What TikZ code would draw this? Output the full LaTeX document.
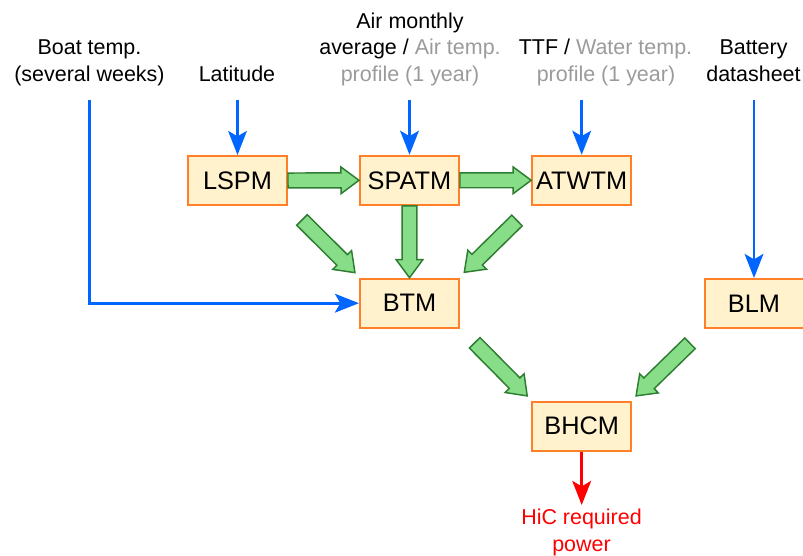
\documentclass[tikz,border=0pt]{standalone}
\usepackage{fontspec}
\setmainfont{Liberation Sans}
\usetikzlibrary{arrows.meta,calc}
\definecolor{boxfill}{RGB}{255,242,204}
\definecolor{boxdraw}{RGB}{255,128,40}
\definecolor{inblue}{RGB}{0,102,255}
\definecolor{gfill}{RGB}{136,221,136}
\definecolor{gdraw}{RGB}{46,125,50}
\definecolor{softgray}{RGB}{155,155,155}
\definecolor{outred}{RGB}{255,0,0}
\newcommand{\garrow}[2]{%
  \path let \p1=($(#2)-(#1)$) in
    \pgfextra{\pgfmathsetmacro\garang{atan2(\y1,\x1)}%
              \pgfmathsetmacro\garlen{veclen(\x1,\y1)}%
              \xdef\garang{\garang}\xdef\garlen{\garlen}};
  \draw[gblock, shift={(#1)}, rotate=\garang]
    (0pt,-5.6pt) -- ({\garlen pt-13.5pt},-5.6pt) -- ({\garlen pt-13.5pt},-10pt)
    -- (\garlen pt,0pt) -- ({\garlen pt-13.5pt},10pt) -- ({\garlen pt-13.5pt},5.6pt)
    -- (0pt,5.6pt) -- cycle;
}
\begin{document}
\begin{tikzpicture}[x=0.75pt,y=-0.75pt,
  model/.style={draw=boxdraw, fill=boxfill, line width=1.5pt, minimum width=74.25pt,
    minimum height=36.75pt, inner sep=0pt, font=\fontsize{19pt}{22pt}\selectfont},
  lbl/.style={anchor=base, inner sep=0pt, font=\fontsize{16.1pt}{20pt}\selectfont},
  gblock/.style={draw=gdraw, fill=gfill, line width=1.1pt, line join=miter},
  inarrow/.style={draw=inblue, line width=2.2pt, -{Stealth[length=18pt,width=14pt,inset=4pt]}},
  outarrow/.style={draw=outred, line width=2.2pt, -{Stealth[length=18pt,width=14pt,inset=4pt]}}]
\useasboundingbox (0,0) rectangle (803,556);

% boxes
\node[model] (lspm)  at (237.5,180.5) {LSPM};
\node[model] (spatm) at (409.5,180.3) {SPATM};
\node[model] (atwtm) at (581.7,180.3) {ATWTM};
\node[model] (btm)   at (409.5,303.2) {BTM};
\node[model] (blm)   at (754,303.5)   {BLM};
\node[model] (bhcm)  at (581.7,426.2) {BHCM};

% input labels
\node[lbl] (boat1) at (89.5,55)   {Boat temp.};
\node[lbl] (boat2) at (89.5,81.5) {(several weeks)};
\node[lbl] (lat)   at (237,81.5)  {Latitude};
\node[lbl] (air1)  at (410,28.5)  {Air monthly};
\node[lbl] (air2)  at (410,55)    {average / \textcolor{softgray}{Air temp.}};
\node[lbl, text=softgray] (air3) at (410,81.5) {profile (1 year)};
\node[lbl] (ttf1)  at (605.5,55)  {TTF / \textcolor{softgray}{Water temp.}};
\node[lbl, text=softgray] (ttf2) at (606,81.5) {profile (1 year)};
\node[lbl] (bat1)  at (753.5,55)  {Battery};
\node[lbl] (bat2)  at (753.5,81.5) {datasheet};
\node[lbl, text=outred] (hic1) at (581.5,524) {HiC required};
\node[lbl, text=outred] (hic2) at (581.5,551) {power};

% blue input arrows
\coordinate (sboat) at (89.3,100.5);
\coordinate (slat)  at (237.5,100.5);
\coordinate (sair)  at (409.5,100.5);
\coordinate (sttf)  at (581.7,100.5);
\coordinate (sbat)  at (754,100.5);
\draw[inarrow] (sboat) |- (btm.west);
\draw[inarrow] (slat) -- (lspm.north);
\draw[inarrow] (sair) -- (spatm.north);
\draw[inarrow] (sttf) -- (atwtm.north);
\draw[inarrow] (sbat) -- (blm.north);

% red output
\coordinate (rend) at (581.7,505);
\draw[outarrow] (bhcm.south) -- (rend);

% green block arrows
\coordinate (d1s) at (302,220);   \coordinate (d1e) at (355,272.7);
\coordinate (d2s) at (517,220.5); \coordinate (d2e) at (464.3,272.3);
\coordinate (d3s) at (474.7,342.8); \coordinate (d3e) at (527.3,396);
\coordinate (d4s) at (690,343.3); \coordinate (d4e) at (636,396);
\garrow{lspm.east}{spatm.west}
\garrow{spatm.east}{atwtm.west}
\garrow{spatm.south}{btm.north}
\garrow{d1s}{d1e}
\garrow{d2s}{d2e}
\garrow{d3s}{d3e}
\garrow{d4s}{d4e}
\end{tikzpicture}
\end{document}
